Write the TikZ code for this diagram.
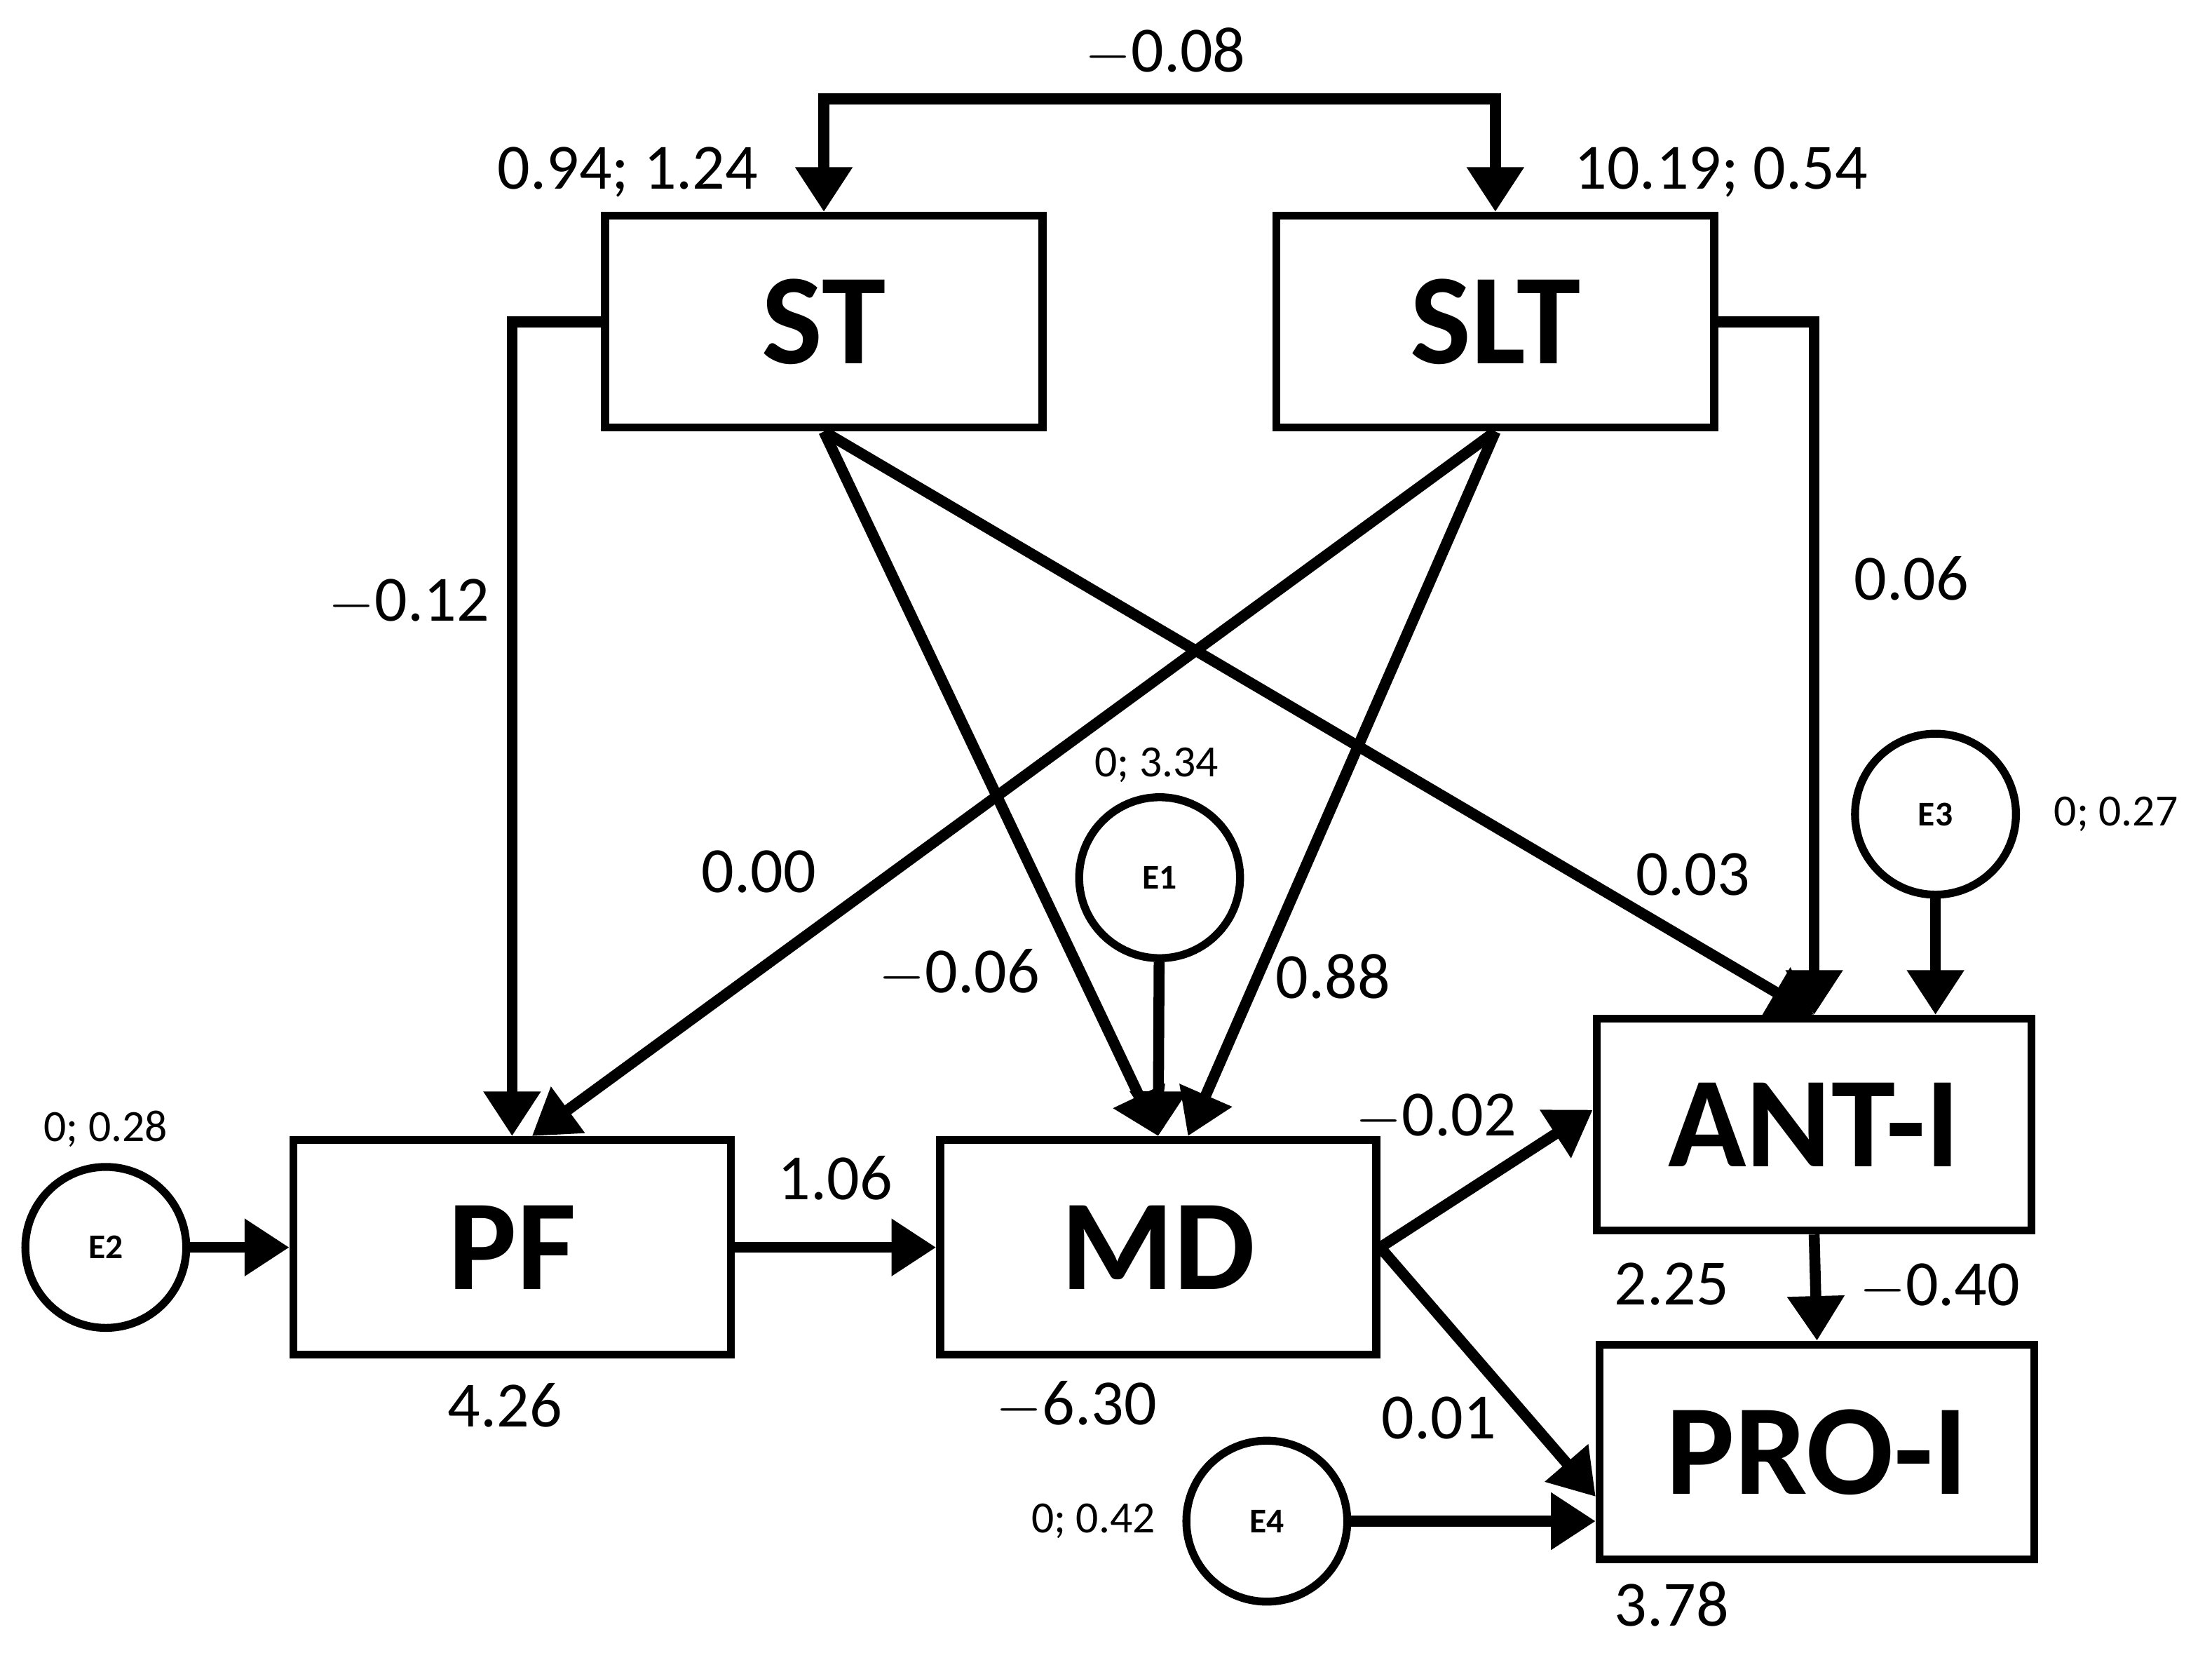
\documentclass[tikz,border=0pt]{standalone}
\usepackage{fontspec}
\setmainfont{Carlito}
\usetikzlibrary{arrows.meta}
\begin{document}
\begin{tikzpicture}[x=0.01cm,y=-0.01cm,
 box/.style={draw,line width=1.6pt,minimum width=3.1cm,minimum height=1.5cm,font=\fontsize{26}{28}\selectfont\bfseries,inner sep=0},
 err/.style={draw,circle,line width=1.6pt,minimum size=1.14cm,inner sep=0,font=\fontsize{7}{8}\selectfont\bfseries},
 arr/.style={line width=2.2pt,-{Triangle[length=9pt,width=11pt]}},
 lab/.style={font=\fontsize{13}{15}\selectfont},
 sm/.style={font=\fontsize{9}{10}\selectfont}]
\useasboundingbox (0,0) rectangle (1568,1171);
\node[box] (ST) at (584,228) {ST};
\node[box] (SLT) at (1060,228) {SLT};
\node[box,minimum height=1.52cm] (PF) at (363,884) {PF};
\node[box,minimum width=3.09cm,minimum height=1.52cm] (MD) at (821,884) {MD};
\node[box,minimum width=3.08cm] (ANT) at (1286,797) {ANT-I};
\node[box,minimum width=3.08cm,minimum height=1.52cm] (PRO) at (1288,1029) {PRO-I};
\node[err] (E1) at (822,622) {E1};
\node[err] (E2) at (75,884) {E2};
\node[err] (E3) at (1372,577) {E3};
\node[err] (E4) at (898,1078) {E4};
\coordinate (cA) at (584,70);
\coordinate (cB) at (1060,70);
\draw[line width=2.2pt,{Triangle[length=9pt,width=11pt]}-{Triangle[length=9pt,width=11pt]}] (ST.north) -- (cA) -- (cB) -- (SLT.north);
\draw[arr] (ST.west) -| (PF.north);
\draw[arr] (SLT.east) -| (ANT.north);
\draw[arr] (ST.south) -- (MD.north);
\draw[arr] (ST.south) -- (ANT.north);
\draw[arr] (SLT.south) -- ([xshift=4]PF.north);
\draw[arr] (SLT.south) -- ([xshift=6]MD.north);
\draw[arr] (E1) -- (MD.north);
\draw[arr] (E2) -- (PF);
\draw[arr] (E3) -- (E3|-ANT.north);
\draw[arr] (E4) -- (E4-|PRO.west);
\draw[arr] (PF) -- (MD);
\draw[arr] (MD.east) -- ([yshift=3]ANT.west);
\draw[arr] (MD.east) -- ([yshift=-9]PRO.west);
\draw[arr] (ANT.south) -- (PRO.north);
\node[lab] at (826,37) {$-$0.08};
\node[lab] at (290,427) {$-$0.12};
\node[lab] at (1355,410) {0.06};
\node[lab] at (680,690) {$-$0.06};
\node[lab] at (1200,620) {0.03};
\node[lab] at (538,618) {0.00};
\node[lab] at (945,692) {0.88};
\node[lab] at (592,835) {1.06};
\node[lab] at (1018,792) {$-$0.02};
\node[lab] at (1020,1005) {0.01};
\node[lab] at (1375,912) {$-$0.40};
\node[lab] at (358,996) {4.26};
\node[lab] at (763,996) {$-$6.30};
\node[lab] at (1185,910) {2.25};
\node[lab] at (1185,1137) {3.78};
\node[lab] at (445,122) {0.94; 1.24};
\node[lab] at (1220,122) {10.19; 0.54};
\node[sm] at (820,542) {0; 3.34};
\node[sm] at (75,800) {0; 0.28};
\node[sm] at (1500,577) {0; 0.27};
\node[sm] at (775,1078) {0; 0.42};
\end{tikzpicture}
\end{document}
